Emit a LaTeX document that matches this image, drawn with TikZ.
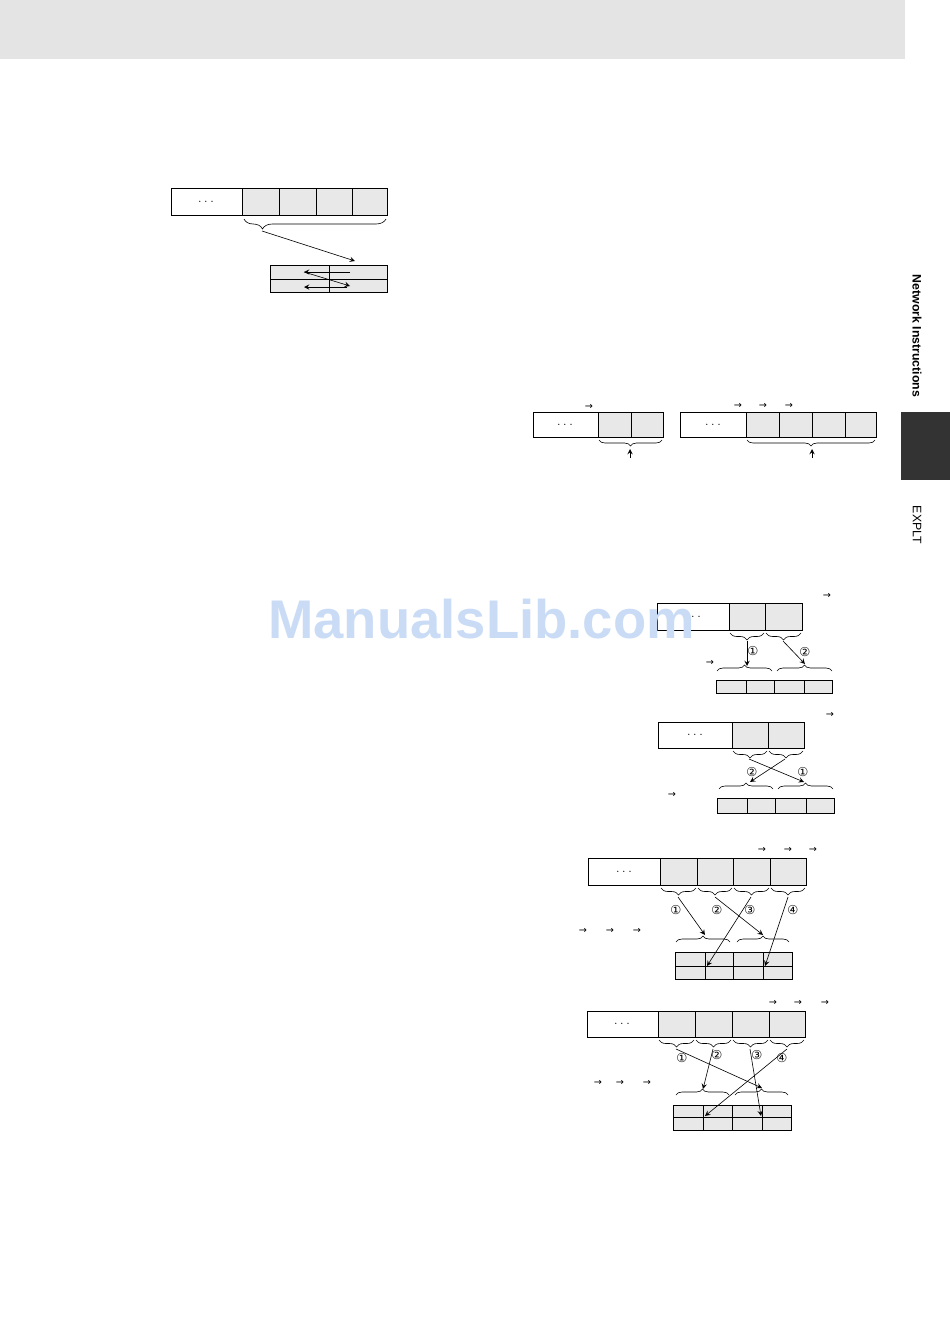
\documentclass[tikz,border=0pt]{standalone}
\usepackage{fontspec}
\usetikzlibrary{decorations.pathreplacing}
\newfontfamily\arialfont{Liberation Sans}
\newfontfamily\symfont{DejaVu Sans}
\definecolor{bandgray}{HTML}{E4E4E4}
\definecolor{cellgray}{HTML}{E8E8E8}
\definecolor{tabdark}{HTML}{333333}
\definecolor{wmblue}{HTML}{CADCF5}
\tikzset{
  blank/.style={draw,fill=white,line width=0.5pt},
  cell/.style={draw,fill=cellgray,line width=0.5pt},
  brc/.style={decorate,decoration={brace,amplitude=1.4mm},line width=0.35pt},
  ptr/.style={->,line width=0.35pt},
  num/.style={inner sep=0pt,font=\symfont\fontsize{7}{7}\selectfont},
  arr/.style={inner sep=0pt,font=\symfont\fontsize{5.5}{5.5}\selectfont},
  dots/.style={inner sep=0pt,font=\fontsize{6}{6}\selectfont},
  tabtext/.style={rotate=-90,inner sep=0pt,font=\arialfont\fontsize{7}{7}\selectfont}
}
\begin{document}
\begin{tikzpicture}[x=0.2mm,y=-0.2mm,>=stealth]
  \useasboundingbox (0,0) rectangle (950,1344);
  \fill[bandgray] (0,0) rectangle (905,59);
  \fill[tabdark] (901,412) rectangle (950,480);
  \node[tabtext,font=\arialfont\bfseries\fontsize{7}{7}\selectfont] (tabname) at (917,336) {Network Instructions};
  \node[tabtext] (tabsub) at (917,525) {EXPLT};

  \draw[blank] (171,188) rectangle (242,215);
  \node[dots] (dotsa) at (206,202) {$\cdots$};
  \foreach \a/\b in {242/279,279/316,316/352,352/387}
    \draw[cell] (\a,188) rectangle (\b,215);
  \draw[brc,decoration={amplitude=2mm,aspect=0.87}] (386,219) -- (244,219);
  \foreach \a/\b in {270/329,329/387}
  {
    \draw[cell] (\a,265) rectangle (\b,279);
    \draw[cell] (\a,279) rectangle (\b,292);
  }
  \coordinate (srca) at (262,231);
  \coordinate (dsta) at (355,261);
  \coordinate (hiR) at (350,272);
  \coordinate (hiL) at (304,272);
  \coordinate (loR) at (350,286);
  \coordinate (loS) at (347,287);
  \coordinate (loL) at (304,287);
  \draw[ptr] (srca) -- (dsta);
  \draw[ptr] (hiR) -- (hiL);
  \draw[ptr] (hiL) -- (loR);
  \draw[ptr] (loS) -- (loL);

  \draw[blank] (533,412) rectangle (598,437);
  \node[dots] (dotsb) at (565,425) {$\cdots$};
  \foreach \a/\b in {598/631,631/663}
    \draw[cell] (\a,412) rectangle (\b,437);
  \node[arr] (rb1) at (589,407) {→};
  \draw[brc,decoration={amplitude=1.2mm}] (662,440) -- (599,440);
  \coordinate (upb) at (630,458);
  \coordinate (tipb) at (630,449);
  \draw[ptr] (upb) -- (tipb);

  \draw[blank] (680,412) rectangle (746,437);
  \node[dots] (dotsc) at (713,425) {$\cdots$};
  \foreach \a/\b in {746/779,779/812,812/845,845/876}
    \draw[cell] (\a,412) rectangle (\b,437);
  \foreach \x in {738,763,789}
    \node[arr] (rc\x) at (\x,406) {→};
  \draw[brc,decoration={amplitude=1.2mm}] (875,440) -- (747,440);
  \coordinate (upc) at (812,458);
  \coordinate (tipc) at (812,449);
  \draw[ptr] (upc) -- (tipc);

  \draw[blank] (657,603) rectangle (729,630);
  \node[dots] (dotsd) at (693,617) {$\cdots$};
  \foreach \a/\b in {729/765,765/802}
  {
    \draw[cell] (\a,603) rectangle (\b,630);
    \draw[brc,decoration={amplitude=1.4mm}] (\b-1,633) -- (\a+1,633);
  }
  \node[arr] (rd1) at (827,596) {→};
  \node[arr] (rd2) at (710,663) {→};
  \coordinate (sd1) at (747,641);
  \coordinate (sd2) at (783,641);
  \coordinate (ed1) at (747,666);
  \coordinate (ed2) at (805,664);
  \draw[ptr] (sd1) -- (ed1);
  \draw[ptr] (sd2) -- (ed2);
  \node[num] (nd1) at (753,651) {①};
  \node[num] (nd2) at (805,652) {②};
  \draw[brc,decoration={amplitude=1.2mm}] (717,671) -- (772,671);
  \draw[brc,decoration={amplitude=1.2mm}] (777,671) -- (832,671);
  \foreach \a/\b in {716/746,746/774,774/804,804/832}
    \draw[cell] (\a,680) rectangle (\b,693);

  \draw[blank] (658,722) rectangle (732,748);
  \node[dots] (dotse) at (695,735) {$\cdots$};
  \foreach \a/\b in {732/768,768/804}
  {
    \draw[cell] (\a,722) rectangle (\b,748);
    \draw[brc,decoration={amplitude=1.4mm}] (\b-1,751) -- (\a+1,751);
  }
  \node[arr] (re1) at (830,715) {→};
  \node[arr] (re2) at (672,795) {→};
  \coordinate (se1) at (749,759);
  \coordinate (se2) at (785,759);
  \coordinate (ee1) at (804,782);
  \coordinate (ee2) at (750,782);
  \draw[ptr] (se1) -- (ee1);
  \draw[ptr] (se2) -- (ee2);
  \node[num] (ne2) at (752,772) {②};
  \node[num] (ne1) at (803,772) {①};
  \draw[brc,decoration={amplitude=1.2mm}] (719,789) -- (773,789);
  \draw[brc,decoration={amplitude=1.2mm}] (778,789) -- (833,789);
  \foreach \a/\b in {717/747,747/775,775/806,806/834}
    \draw[cell] (\a,798) rectangle (\b,813);

  \draw[blank] (588,858) rectangle (660,885);
  \node[dots] (dotsf) at (624,872) {$\cdots$};
  \foreach \a/\b in {660/697,697/733,733/770,770/806}
  {
    \draw[cell] (\a,858) rectangle (\b,885);
    \draw[brc,decoration={amplitude=1.4mm}] (\b-1,888) -- (\a+1,888);
  }
  \foreach \a/\b in {675/705,705/733,733/763,763/792}
  {
    \draw[cell] (\a,952) rectangle (\b,966);
    \draw[cell] (\a,966) rectangle (\b,979);
  }
  \foreach \x in {762,788,813}
    \node[arr] (rf\x) at (\x,850) {→};
  \foreach \x in {583,610,637}
    \node[arr] (lf\x) at (\x,931) {→};
  \coordinate (sf1) at (678,897);
  \coordinate (sf2) at (715,897);
  \coordinate (sf3) at (751,897);
  \coordinate (sf4) at (788,897);
  \coordinate (ef1) at (705,935);
  \coordinate (ef2) at (763,935);
  \coordinate (ef3) at (707,966);
  \coordinate (ef4) at (765,966);
  \foreach \i in {1,...,4}
    \draw[ptr] (sf\i) -- (ef\i);
  \node[num] (nf1) at (676,910) {①};
  \node[num] (nf2) at (717,910) {②};
  \node[num] (nf3) at (750,910) {③};
  \node[num] (nf4) at (793,910) {④};
  \draw[brc,decoration={amplitude=1.2mm}] (676,942) -- (730,942);
  \draw[brc,decoration={amplitude=1.2mm}] (737,942) -- (789,942);

  \draw[blank] (587,1011) rectangle (658,1037);
  \node[dots] (dotsg) at (622,1024) {$\cdots$};
  \foreach \a/\b in {658/695,695/732,732/769,769/805}
  {
    \draw[cell] (\a,1011) rectangle (\b,1037);
    \draw[brc,decoration={amplitude=1.4mm}] (\b-1,1040) -- (\a+1,1040);
  }
  \foreach \a/\b in {673/703,703/732,732/762,762/791}
  {
    \draw[cell] (\a,1105) rectangle (\b,1117);
    \draw[cell] (\a,1117) rectangle (\b,1130);
  }
  \foreach \x in {773,798,825}
    \node[arr] (rg\x) at (\x,1003) {→};
  \foreach \x in {598,620,647}
    \node[arr] (lg\x) at (\x,1083) {→};
  \coordinate (sg1) at (676,1049);
  \coordinate (sg2) at (713,1049);
  \coordinate (sg3) at (750,1049);
  \coordinate (sg4) at (787,1049);
  \coordinate (eg1) at (762,1088);
  \coordinate (eg2) at (703,1089);
  \coordinate (eg3) at (761,1116);
  \coordinate (eg4) at (705,1116);
  \foreach \i in {1,...,4}
    \draw[ptr] (sg\i) -- (eg\i);
  \node[num] (ng1) at (682,1058) {①};
  \node[num] (ng2) at (717,1055) {②};
  \node[num] (ng3) at (757,1055) {③};
  \node[num] (ng4) at (782,1058) {④};
  \draw[brc,decoration={amplitude=1.2mm}] (676,1095) -- (729,1095);
  \draw[brc,decoration={amplitude=1.2mm}] (735,1095) -- (788,1095);

  \node[anchor=base,inner sep=0pt,text=wmblue,font=\arialfont\bfseries\fontsize{31}{31}\selectfont] (wmark) at (481.5,638) {ManualsLib.com};
\end{tikzpicture}
\end{document}
